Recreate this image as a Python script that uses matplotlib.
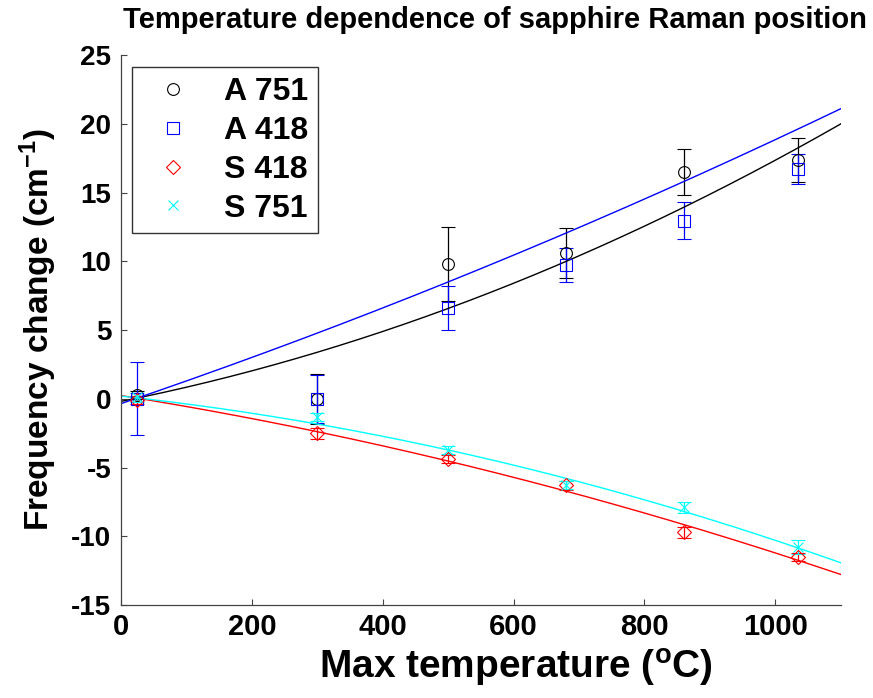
import numpy as np
import matplotlib
matplotlib.use("Agg")
import matplotlib.pyplot as plt
from matplotlib import font_manager

# Measured peak shifts (cm^-1) at each max temperature (C)
temps = [25, 300, 500, 680, 860, 1035]

a751 = [0.3, 0.0, 9.8, 10.6, 16.5, 17.4]
a751_err = [0.3, 1.8, 2.7, 1.8, 1.7, 1.6]

a418 = [0.0, 0.0, 6.6, 9.75, 12.95, 16.7]
a418_err = [2.65, 1.75, 1.6, 1.25, 1.35, 1.1]

s418 = [-0.1, -2.5, -4.4, -6.3, -9.7, -11.5]
s418_err = [0.3, 0.4, 0.3, 0.3, 0.4, 0.3]

s751 = [0.1, -1.3, -3.7, -6.25, -7.9, -10.8]
s751_err = [0.3, 0.3, 0.3, 0.3, 0.4, 0.5]

# quadratic fit coefficients (c2, c1, c0) for each series
fit_a751 = [8.05e-6, 0.00949, -0.185]
fit_a418 = [3.0e-6, 0.0162, -0.35]
fit_s418 = [-3.83e-6, -0.00762, 0.24]
fit_s751 = [-5.3e-6, -0.005193, 0.2]

names = set(f.name for f in font_manager.fontManager.ttflist)
narrow = "Liberation Sans Narrow" if "Liberation Sans Narrow" in names else "Liberation Sans"

plt.rcParams["font.family"] = "Liberation Sans"
plt.rcParams["font.weight"] = "bold"
plt.rcParams["axes.labelweight"] = "bold"
plt.rcParams["axes.titleweight"] = "bold"
plt.rcParams["axes.unicode_minus"] = False
plt.rcParams["mathtext.default"] = "regular"

fig = plt.figure(figsize=(8.73, 6.98), dpi=100)
ax = fig.add_axes([0.1386, 0.1332, 0.8244, 0.7878])

series = [
    ("A 751", a751, a751_err, fit_a751, "k", "o"),
    ("A 418", a418, a418_err, fit_a418, "#0000FF", "s"),
    ("S 418", s418, s418_err, fit_s418, "#FF0000", "D"),
    ("S 751", s751, s751_err, fit_s751, "#00FFFF", "x"),
]

xf = np.linspace(0, 1100, 200)
handles = []
for label, vals, err, coef, col, mk in series:
    ms = 8.5 if mk == "o" else (8 if mk == "s" else 7)
    h = ax.errorbar(temps, vals, yerr=err, fmt=mk, color=col, mfc="none",
                    mec=col, ms=ms, mew=0.8, elinewidth=0.9, capsize=5,
                    capthick=0.9, label=label)
    handles.append(h)
for label, vals, err, coef, col, mk in series:
    ax.plot(xf, np.polyval(coef, xf), color=col, lw=1.0)

ax.set_xlim(0, 1100)
ax.set_ylim(-15, 25)
ax.set_xticks(np.arange(0, 1001, 200))
ax.set_yticks(np.arange(-15, 26, 5))
ax.spines["top"].set_visible(False)
ax.spines["right"].set_visible(False)
for s in ("left", "bottom"):
    ax.spines[s].set_color("#444444")
    ax.spines[s].set_linewidth(0.9)
ax.tick_params(direction="in", length=4, width=0.8, color="#444444")
ax.tick_params(axis="y", labelsize=20, pad=7)
ax.tick_params(axis="x", labelsize=21, pad=6)
for t in ax.get_xticklabels():
    t.set_fontfamily(narrow)
    t.set_fontweight("bold")

ax.set_xlabel("Max temperature ($^{o}$C)", fontsize=28, family=narrow,
              fontweight="bold")
ax.xaxis.set_label_coords((516 - 121) / 720, -(668 - 605) / 550)
ax.xaxis.label.set_va("center")
ax.set_ylabel("Frequency change (cm$^{-1}$)", fontsize=24, fontweight="bold",
              labelpad=9)
fig.text(0.567, 1 - 20 / 698, "Temperature dependence of sapphire Raman position",
         fontsize=21, family=narrow, fontweight="bold", ha="center", va="center")

leg = ax.legend(handles=[(h[0]) for h in handles],
                labels=[s[0] for s in series], loc="upper left",
                bbox_to_anchor=(0.015, 0.978), borderaxespad=0, fontsize=23,
                frameon=True, fancybox=False, edgecolor="k", handlelength=2.0,
                handletextpad=0.6, borderpad=0.3, labelspacing=0.28)
leg.get_frame().set_linewidth(1.0)

fig.savefig("out.png", dpi=100)
